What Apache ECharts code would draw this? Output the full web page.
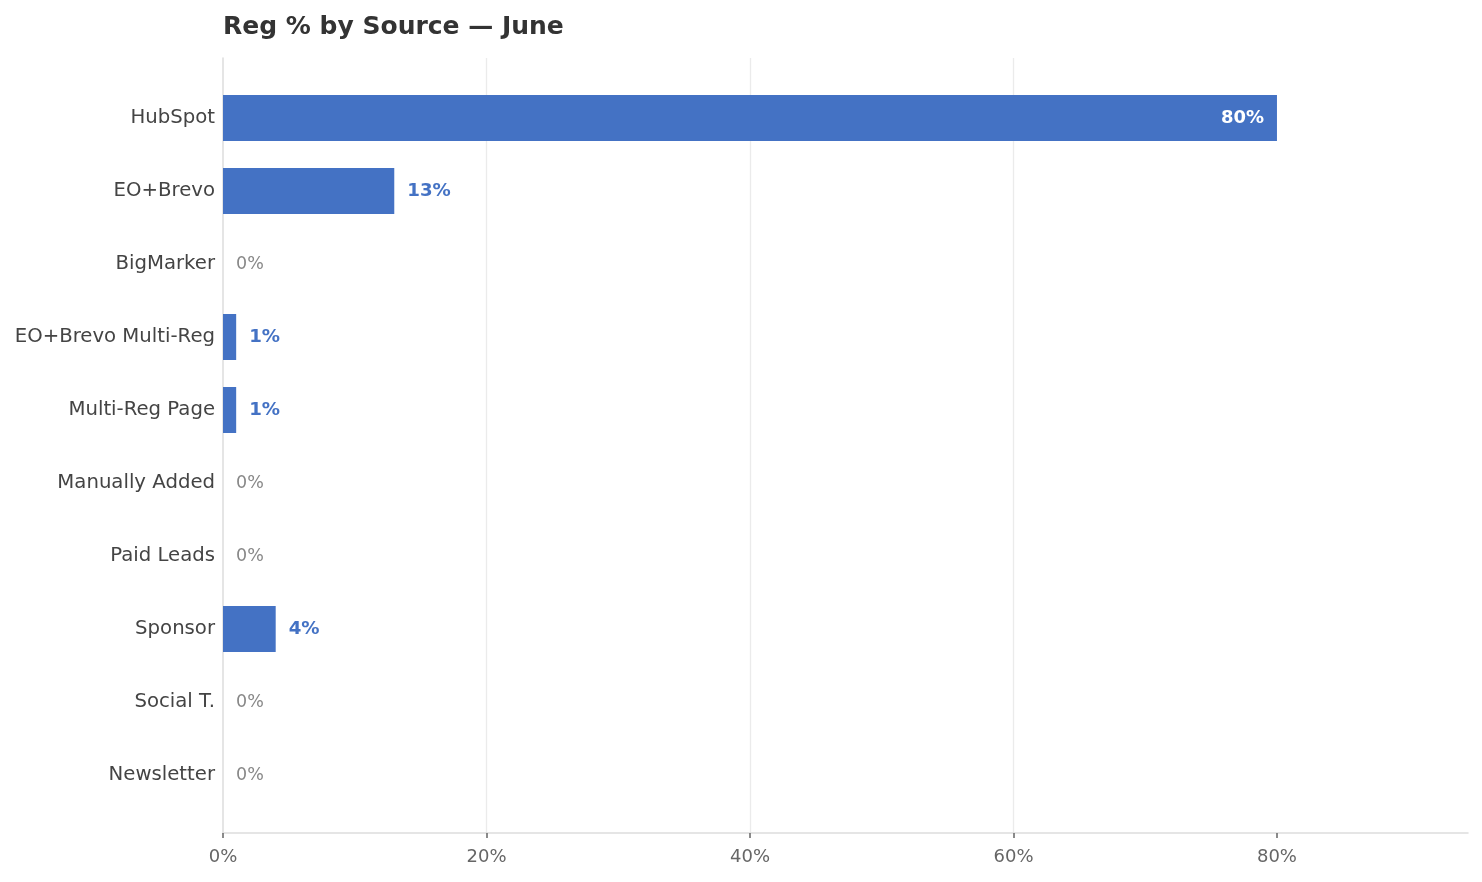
<!DOCTYPE html>
<html>
<head>
<meta charset="utf-8">
<script src="https://cdn.jsdelivr.net/npm/echarts@6/dist/echarts.min.js"></script>
<style>
html,body{margin:0;padding:0;background:#fff;}
#chart{width:1482px;height:882px;}
</style>
</head>
<body>
<div id="chart"></div>
<script>
const title = 'Reg % by Source — June';
const categories = ['HubSpot','EO+Brevo','BigMarker','EO+Brevo Multi-Reg','Multi-Reg Page','Manually Added','Paid Leads','Sponsor','Social T.','Newsletter'];
const regPct = [80, 13, 0, 1, 1, 0, 0, 4, 0, 0];
const xTicks = [0, 20, 40, 60, 80];
const xMax = 94.5;

const FONT = 'DejaVu Sans';
const BLUE = '#4472C4';

const barData = regPct.map(v => {
  let label;
  if (v >= 50) {
    label = {position: 'insideRight', distance: 13, color: '#fff', fontWeight: 'bold', fontSize: 18};
  } else if (v === 0) {
    label = {position: 'right', distance: 13, color: '#888', fontWeight: 'normal', fontSize: 17.5};
  } else {
    label = {position: 'right', distance: 13, color: BLUE, fontWeight: 'bold', fontSize: 18.2};
  }
  return {value: v, label: label};
});

const chart = echarts.init(document.getElementById('chart'));
chart.setOption({
  animation: false,
  backgroundColor: '#fff',
  textStyle: {fontFamily: FONT},
  title: {
    text: title,
    left: 218,
    top: 10,
    textStyle: {fontFamily: FONT, fontSize: 25, fontWeight: 'bold', color: '#333'}
  },
  grid: [
    {left: 223, right: 14, top: 58, bottom: 49},
    {left: 223, right: 14, top: 81.5, bottom: 70.5}
  ],
  xAxis: [
    {
      gridIndex: 0, type: 'value', min: 0, max: xMax, interval: 20,
      axisLine: {show: true, lineStyle: {color: '#dddddd', width: 1.5}},
      axisTick: {show: true, length: 5, lineStyle: {color: '#666', width: 1.5}, customValues: xTicks},
      axisLabel: {customValues: xTicks, formatter: v => v + '%', color: '#666', fontSize: 18, fontFamily: FONT, margin: 15},
      splitLine: {show: true, showMinLine: false, showMaxLine: false, lineStyle: {color: '#ebebeb', width: 1.3}}
    },
    {
      gridIndex: 1, type: 'value', min: 0, max: xMax,
      show: false
    }
  ],
  yAxis: [
    {
      gridIndex: 0, type: 'value', min: 0, max: 1,
      axisLine: {show: true, lineStyle: {color: '#dddddd', width: 1.5}},
      axisTick: {show: false}, axisLabel: {show: false}, splitLine: {show: false}
    },
    {
      gridIndex: 1, type: 'category', data: categories, inverse: true,
      axisLine: {show: false}, axisTick: {show: false},
      axisLabel: {color: '#444', fontSize: 19.7, fontFamily: FONT, margin: 8, padding: [6, 0, 0, 0]},
      splitLine: {show: false}
    }
  ],
  series: [{
    type: 'bar',
    xAxisIndex: 1, yAxisIndex: 1,
    data: barData,
    barWidth: 46,
    itemStyle: {color: BLUE},
    label: {show: true, formatter: p => p.value + '%', fontFamily: FONT}
  }]
});
</script>
</body>
</html>
